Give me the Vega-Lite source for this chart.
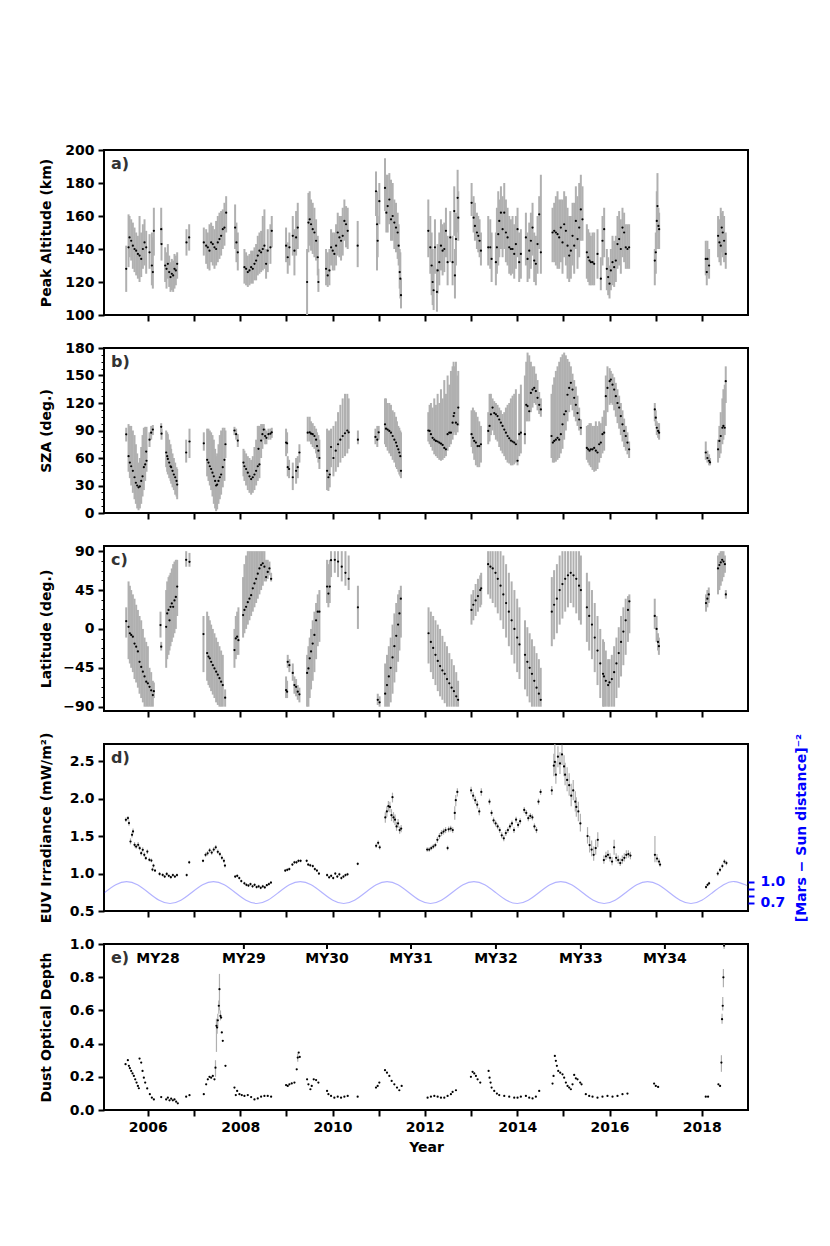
{
  "$schema": "https://vega.github.io/schema/vega-lite/v6.json",
  "background": "white",
  "padding": {"left": 38, "top": 142, "right": 5, "bottom": 5},
  "config": {
    "font": "DejaVu Sans",
    "view": {"stroke": "black", "strokeWidth": 2},
    "axis": {
      "labelFont": "DejaVu Sans", "labelFontSize": 14, "labelFontWeight": "bold", "labelColor": "black",
      "titleFont": "DejaVu Sans", "titleFontSize": 14, "titleFontWeight": "bold", "titleColor": "black",
      "tickColor": "black", "tickWidth": 2, "tickSize": 6, "domain": false, "grid": false, "labelPadding": 4
    }
  },
  "spacing": 33,
  "bounds": "flush",
  "datasets": {
    "a": [
      {"t":2005.531,"v":128,"lo":114,"hi":142},{"t":2005.582,"v":141,"lo":129,"hi":161},{"t":2005.603,"v":147,"lo":135,"hi":160},
      {"t":2005.639,"v":145,"lo":133,"hi":158},{"t":2005.675,"v":142,"lo":128,"hi":156},{"t":2005.711,"v":140,"lo":126,"hi":153},
      {"t":2005.747,"v":139,"lo":124,"hi":150},{"t":2005.784,"v":137,"lo":122,"hi":148},{"t":2005.820,"v":136,"lo":120,"hi":160},
      {"t":2005.856,"v":134,"lo":123,"hi":150},{"t":2005.892,"v":140,"lo":128,"hi":155},{"t":2005.928,"v":144,"lo":130,"hi":158},
      {"t":2005.964,"v":141,"lo":125,"hi":151},{"t":2006.036,"v":138,"lo":128,"hi":149},{"t":2006.087,"v":130,"lo":118,"hi":150},
      {"t":2006.108,"v":126,"lo":116,"hi":147},{"t":2006.130,"v":151,"lo":136,"hi":165},{"t":2006.289,"v":152,"lo":143,"hi":165},
      {"t":2006.296,"v":143,"lo":133,"hi":153},{"t":2006.375,"v":130,"lo":120,"hi":141},{"t":2006.404,"v":128,"lo":116,"hi":138},
      {"t":2006.433,"v":131,"lo":122,"hi":143},{"t":2006.462,"v":126,"lo":117,"hi":136},{"t":2006.491,"v":123,"lo":114,"hi":132},
      {"t":2006.519,"v":125,"lo":115,"hi":134},{"t":2006.548,"v":124,"lo":114,"hi":133},{"t":2006.577,"v":128,"lo":116,"hi":137},
      {"t":2006.606,"v":127,"lo":118,"hi":136},{"t":2006.635,"v":131,"lo":122,"hi":138},{"t":2006.837,"v":144,"lo":136,"hi":152},
      {"t":2006.895,"v":147,"lo":139,"hi":155},{"t":2007.212,"v":144,"lo":136,"hi":153},{"t":2007.263,"v":142,"lo":131,"hi":152},
      {"t":2007.299,"v":141,"lo":128,"hi":150},{"t":2007.335,"v":139,"lo":127,"hi":155},{"t":2007.371,"v":144,"lo":132,"hi":156},
      {"t":2007.407,"v":143,"lo":130,"hi":154},{"t":2007.443,"v":141,"lo":128,"hi":152},{"t":2007.479,"v":140,"lo":130,"hi":157},
      {"t":2007.515,"v":144,"lo":132,"hi":160},{"t":2007.551,"v":146,"lo":134,"hi":162},{"t":2007.587,"v":148,"lo":136,"hi":163},
      {"t":2007.623,"v":152,"lo":140,"hi":164},{"t":2007.659,"v":153,"lo":142,"hi":168},{"t":2007.696,"v":162,"lo":150,"hi":172},
      {"t":2007.890,"v":153,"lo":140,"hi":167},{"t":2007.919,"v":144,"lo":132,"hi":156},{"t":2007.948,"v":138,"lo":127,"hi":150},
      {"t":2008.092,"v":129,"lo":119,"hi":140},{"t":2008.128,"v":128,"lo":118,"hi":138},{"t":2008.165,"v":126,"lo":117,"hi":136},
      {"t":2008.201,"v":127,"lo":118,"hi":137},{"t":2008.237,"v":129,"lo":119,"hi":139},{"t":2008.273,"v":128,"lo":119,"hi":139},
      {"t":2008.309,"v":131,"lo":121,"hi":141},{"t":2008.345,"v":133,"lo":121,"hi":143},{"t":2008.381,"v":136,"lo":124,"hi":148},
      {"t":2008.417,"v":139,"lo":125,"hi":150},{"t":2008.453,"v":138,"lo":126,"hi":151},{"t":2008.489,"v":140,"lo":127,"hi":160},
      {"t":2008.525,"v":142,"lo":128,"hi":164},{"t":2008.561,"v":131,"lo":122,"hi":140},{"t":2008.597,"v":139,"lo":126,"hi":152},
      {"t":2008.655,"v":141,"lo":131,"hi":155},{"t":2008.684,"v":151,"lo":141,"hi":160},{"t":2008.994,"v":142,"lo":132,"hi":153},
      {"t":2009.030,"v":135,"lo":125,"hi":144},{"t":2009.066,"v":141,"lo":130,"hi":150},{"t":2009.139,"v":148,"lo":136,"hi":160},
      {"t":2009.175,"v":139,"lo":124,"hi":152},{"t":2009.211,"v":147,"lo":136,"hi":163},{"t":2009.247,"v":153,"lo":140,"hi":168},
      {"t":2009.449,"v":120,"lo":100,"hi":140},{"t":2009.478,"v":156,"lo":138,"hi":174},{"t":2009.506,"v":158,"lo":142,"hi":175},
      {"t":2009.535,"v":155,"lo":139,"hi":170},{"t":2009.571,"v":152,"lo":137,"hi":168},{"t":2009.608,"v":150,"lo":135,"hi":165},
      {"t":2009.644,"v":145,"lo":133,"hi":158},{"t":2009.680,"v":135,"lo":124,"hi":148},{"t":2009.694,"v":120,"lo":114,"hi":128},
      {"t":2009.860,"v":128,"lo":118,"hi":140},{"t":2009.896,"v":124,"lo":117,"hi":138},{"t":2009.933,"v":127,"lo":118,"hi":140},
      {"t":2009.969,"v":141,"lo":130,"hi":152},{"t":2010.005,"v":139,"lo":127,"hi":150},{"t":2010.040,"v":137,"lo":127,"hi":150},
      {"t":2010.077,"v":142,"lo":130,"hi":155},{"t":2010.113,"v":150,"lo":136,"hi":162},{"t":2010.149,"v":147,"lo":135,"hi":160},
      {"t":2010.185,"v":145,"lo":133,"hi":160},{"t":2010.221,"v":148,"lo":136,"hi":165},{"t":2010.257,"v":157,"lo":145,"hi":170},
      {"t":2010.293,"v":155,"lo":141,"hi":166},{"t":2010.329,"v":151,"lo":140,"hi":165},{"t":2010.545,"v":142,"lo":129,"hi":157},
      {"t":2010.942,"v":175,"lo":160,"hi":187},{"t":2010.964,"v":155,"lo":127,"hi":175},{"t":2010.978,"v":145,"lo":135,"hi":160},
      {"t":2011.014,"v":169,"lo":155,"hi":180},{"t":2011.137,"v":177,"lo":163,"hi":195},{"t":2011.166,"v":162,"lo":150,"hi":185},
      {"t":2011.195,"v":166,"lo":150,"hi":185},{"t":2011.231,"v":170,"lo":155,"hi":186},{"t":2011.267,"v":158,"lo":145,"hi":182},
      {"t":2011.303,"v":160,"lo":145,"hi":180},{"t":2011.339,"v":156,"lo":140,"hi":170},{"t":2011.375,"v":153,"lo":138,"hi":168},
      {"t":2011.411,"v":150,"lo":134,"hi":162},{"t":2011.433,"v":142,"lo":130,"hi":155},{"t":2011.455,"v":126,"lo":116,"hi":140},
      {"t":2011.469,"v":122,"lo":110,"hi":138},{"t":2011.483,"v":112,"lo":104,"hi":122},
      {"t":2012.075,"v":151,"lo":135,"hi":170},{"t":2012.118,"v":141,"lo":125,"hi":160},{"t":2012.147,"v":130,"lo":112,"hi":150},
      {"t":2012.169,"v":120,"lo":106,"hi":140},{"t":2012.190,"v":115,"lo":103,"hi":130},{"t":2012.219,"v":141,"lo":125,"hi":158},
      {"t":2012.262,"v":114,"lo":102,"hi":128},{"t":2012.277,"v":127,"lo":113,"hi":143},{"t":2012.313,"v":132,"lo":118,"hi":150},
      {"t":2012.349,"v":142,"lo":127,"hi":158},{"t":2012.385,"v":139,"lo":124,"hi":155},{"t":2012.421,"v":140,"lo":126,"hi":156},
      {"t":2012.457,"v":151,"lo":135,"hi":165},{"t":2012.493,"v":132,"lo":118,"hi":148},{"t":2012.551,"v":147,"lo":132,"hi":163},
      {"t":2012.601,"v":132,"lo":118,"hi":148},{"t":2012.637,"v":163,"lo":148,"hi":178},{"t":2012.652,"v":124,"lo":110,"hi":140},
      {"t":2012.674,"v":146,"lo":130,"hi":162},{"t":2012.710,"v":171,"lo":150,"hi":188},{"t":2012.724,"v":159,"lo":145,"hi":175},
      {"t":2013.013,"v":168,"lo":160,"hi":180},{"t":2013.056,"v":159,"lo":150,"hi":172},{"t":2013.085,"v":154,"lo":145,"hi":168},
      {"t":2013.128,"v":150,"lo":140,"hi":162},{"t":2013.157,"v":148,"lo":138,"hi":160},{"t":2013.186,"v":145,"lo":135,"hi":158},
      {"t":2013.215,"v":139,"lo":130,"hi":150},{"t":2013.373,"v":141,"lo":130,"hi":160},{"t":2013.417,"v":141,"lo":128,"hi":158},
      {"t":2013.446,"v":134,"lo":120,"hi":150},{"t":2013.539,"v":132,"lo":118,"hi":150},{"t":2013.561,"v":141,"lo":125,"hi":165},
      {"t":2013.590,"v":149,"lo":130,"hi":175},{"t":2013.612,"v":157,"lo":135,"hi":170},{"t":2013.648,"v":162,"lo":140,"hi":178},
      {"t":2013.684,"v":152,"lo":135,"hi":172},{"t":2013.720,"v":162,"lo":140,"hi":180},{"t":2013.756,"v":150,"lo":132,"hi":170},
      {"t":2013.792,"v":147,"lo":130,"hi":165},{"t":2013.828,"v":141,"lo":125,"hi":160},{"t":2013.864,"v":140,"lo":124,"hi":158},
      {"t":2013.900,"v":140,"lo":125,"hi":160},{"t":2013.936,"v":137,"lo":122,"hi":155},{"t":2013.972,"v":143,"lo":128,"hi":160},
      {"t":2014.008,"v":152,"lo":135,"hi":165},{"t":2014.044,"v":132,"lo":120,"hi":150},{"t":2014.080,"v":137,"lo":122,"hi":152},
      {"t":2014.189,"v":147,"lo":130,"hi":162},{"t":2014.225,"v":134,"lo":120,"hi":150},{"t":2014.261,"v":139,"lo":122,"hi":156},
      {"t":2014.297,"v":145,"lo":128,"hi":162},{"t":2014.333,"v":153,"lo":136,"hi":168},{"t":2014.369,"v":133,"lo":120,"hi":150},
      {"t":2014.405,"v":131,"lo":118,"hi":148},{"t":2014.441,"v":143,"lo":125,"hi":160},{"t":2014.477,"v":161,"lo":140,"hi":172},
      {"t":2014.513,"v":138,"lo":125,"hi":185},{"t":2014.766,"v":150,"lo":132,"hi":165},{"t":2014.802,"v":151,"lo":132,"hi":168},
      {"t":2014.838,"v":150,"lo":130,"hi":172},{"t":2014.874,"v":149,"lo":128,"hi":175},{"t":2014.910,"v":147,"lo":128,"hi":170},
      {"t":2014.946,"v":153,"lo":132,"hi":170},{"t":2014.982,"v":144,"lo":125,"hi":170},{"t":2015.018,"v":155,"lo":135,"hi":175},
      {"t":2015.055,"v":151,"lo":130,"hi":172},{"t":2015.091,"v":142,"lo":122,"hi":165},{"t":2015.127,"v":136,"lo":120,"hi":160},
      {"t":2015.163,"v":139,"lo":122,"hi":160},{"t":2015.199,"v":148,"lo":130,"hi":168},{"t":2015.235,"v":142,"lo":125,"hi":168},
      {"t":2015.271,"v":157,"lo":140,"hi":178},{"t":2015.307,"v":146,"lo":128,"hi":172},{"t":2015.343,"v":153,"lo":135,"hi":180},
      {"t":2015.379,"v":164,"lo":145,"hi":185},{"t":2015.415,"v":158,"lo":145,"hi":178},{"t":2015.509,"v":138,"lo":122,"hi":155},
      {"t":2015.538,"v":135,"lo":120,"hi":152},{"t":2015.567,"v":133,"lo":118,"hi":150},{"t":2015.596,"v":132,"lo":118,"hi":148},
      {"t":2015.632,"v":132,"lo":118,"hi":150},{"t":2015.668,"v":131,"lo":118,"hi":150},{"t":2015.740,"v":137,"lo":122,"hi":152},
      {"t":2015.812,"v":122,"lo":115,"hi":135},{"t":2015.848,"v":145,"lo":130,"hi":160},{"t":2015.884,"v":152,"lo":135,"hi":165},
      {"t":2015.942,"v":128,"lo":115,"hi":140},{"t":2015.971,"v":123,"lo":112,"hi":135},{"t":2016.000,"v":119,"lo":110,"hi":130},
      {"t":2016.029,"v":127,"lo":115,"hi":140},{"t":2016.065,"v":132,"lo":118,"hi":148},{"t":2016.101,"v":129,"lo":117,"hi":145},
      {"t":2016.137,"v":133,"lo":120,"hi":148},{"t":2016.173,"v":143,"lo":128,"hi":160},{"t":2016.209,"v":146,"lo":130,"hi":163},
      {"t":2016.245,"v":140,"lo":125,"hi":158},{"t":2016.281,"v":153,"lo":135,"hi":165},{"t":2016.317,"v":150,"lo":132,"hi":162},
      {"t":2016.353,"v":141,"lo":128,"hi":155},{"t":2016.389,"v":140,"lo":128,"hi":155},{"t":2016.425,"v":141,"lo":128,"hi":155},
      {"t":2016.981,"v":133,"lo":118,"hi":140},{"t":2017.003,"v":138,"lo":125,"hi":150},{"t":2017.024,"v":157,"lo":140,"hi":175},
      {"t":2017.039,"v":166,"lo":150,"hi":186},{"t":2017.060,"v":154,"lo":140,"hi":165},{"t":2017.075,"v":152,"lo":140,"hi":162},
      {"t":2018.085,"v":134,"lo":124,"hi":145},{"t":2018.107,"v":126,"lo":118,"hi":135},{"t":2018.121,"v":134,"lo":124,"hi":145},
      {"t":2018.157,"v":130,"lo":122,"hi":140},{"t":2018.352,"v":148,"lo":135,"hi":160},{"t":2018.381,"v":144,"lo":132,"hi":158},
      {"t":2018.410,"v":142,"lo":130,"hi":165},{"t":2018.431,"v":153,"lo":138,"hi":162},{"t":2018.453,"v":150,"lo":135,"hi":163},
      {"t":2018.482,"v":145,"lo":132,"hi":160},{"t":2018.518,"v":137,"lo":128,"hi":150}
    ],
    "b": [
      {"t":2005.531,"v":85.8,"lo":78,"hi":93},{"t":2005.582,"v":62,"lo":45,"hi":97},{"t":2005.610,"v":55,"lo":38,"hi":95},
      {"t":2005.639,"v":51,"lo":30,"hi":95},{"t":2005.675,"v":46,"lo":22,"hi":90},{"t":2005.711,"v":39,"lo":15,"hi":85},
      {"t":2005.740,"v":33,"lo":10,"hi":75},{"t":2005.769,"v":30,"lo":5,"hi":65},{"t":2005.798,"v":28,"lo":3,"hi":55},
      {"t":2005.827,"v":29,"lo":5,"hi":60},{"t":2005.856,"v":35,"lo":10,"hi":72},{"t":2005.885,"v":40,"lo":18,"hi":85},
      {"t":2005.913,"v":50,"lo":25,"hi":93},{"t":2005.942,"v":53,"lo":35,"hi":94},{"t":2005.971,"v":57,"lo":45,"hi":94},
      {"t":2005.964,"v":67,"lo":60,"hi":75},{"t":2006.036,"v":80,"lo":72,"hi":88},{"t":2006.072,"v":87.6,"lo":80,"hi":95},
      {"t":2006.108,"v":91,"lo":85,"hi":96},{"t":2006.289,"v":94,"lo":88,"hi":98},{"t":2006.296,"v":86.5,"lo":80,"hi":92},
      {"t":2006.397,"v":66,"lo":50,"hi":90},{"t":2006.419,"v":62,"lo":45,"hi":88},{"t":2006.433,"v":59,"lo":42,"hi":86},
      {"t":2006.462,"v":55,"lo":38,"hi":80},{"t":2006.491,"v":51,"lo":35,"hi":75},{"t":2006.505,"v":50,"lo":32,"hi":70},
      {"t":2006.534,"v":46,"lo":28,"hi":65},{"t":2006.563,"v":42,"lo":25,"hi":60},{"t":2006.592,"v":39,"lo":20,"hi":55},
      {"t":2006.621,"v":35,"lo":18,"hi":50},{"t":2006.635,"v":31,"lo":15,"hi":48},{"t":2006.830,"v":66,"lo":55,"hi":80},
      {"t":2006.902,"v":78,"lo":60,"hi":92},{"t":2007.212,"v":76,"lo":68,"hi":88},{"t":2007.284,"v":58,"lo":40,"hi":92},
      {"t":2007.313,"v":55,"lo":35,"hi":92},{"t":2007.342,"v":51,"lo":30,"hi":90},{"t":2007.371,"v":48,"lo":25,"hi":88},
      {"t":2007.400,"v":44,"lo":18,"hi":85},{"t":2007.429,"v":40,"lo":10,"hi":80},{"t":2007.457,"v":35,"lo":5,"hi":70},
      {"t":2007.479,"v":30,"lo":2,"hi":62},{"t":2007.501,"v":31,"lo":4,"hi":65},{"t":2007.530,"v":35,"lo":10,"hi":75},
      {"t":2007.558,"v":39,"lo":15,"hi":85},{"t":2007.587,"v":42,"lo":20,"hi":90},{"t":2007.623,"v":50,"lo":28,"hi":93},
      {"t":2007.659,"v":58,"lo":35,"hi":93},{"t":2007.681,"v":75,"lo":60,"hi":90},{"t":2007.876,"v":90,"lo":85,"hi":94},
      {"t":2007.912,"v":86,"lo":80,"hi":92},{"t":2007.948,"v":79,"lo":72,"hi":86},{"t":2008.071,"v":55,"lo":40,"hi":70},
      {"t":2008.092,"v":51,"lo":35,"hi":68},{"t":2008.128,"v":48,"lo":30,"hi":65},{"t":2008.165,"v":44,"lo":25,"hi":62},
      {"t":2008.201,"v":40,"lo":22,"hi":60},{"t":2008.237,"v":37,"lo":20,"hi":58},{"t":2008.273,"v":39,"lo":22,"hi":62},
      {"t":2008.309,"v":42,"lo":25,"hi":72},{"t":2008.345,"v":46,"lo":30,"hi":80},{"t":2008.381,"v":51,"lo":35,"hi":95},
      {"t":2008.396,"v":70,"lo":55,"hi":95},{"t":2008.417,"v":53,"lo":38,"hi":95},{"t":2008.453,"v":79,"lo":60,"hi":97},
      {"t":2008.482,"v":86,"lo":70,"hi":97},{"t":2008.511,"v":91,"lo":80,"hi":97},{"t":2008.540,"v":84,"lo":75,"hi":92},
      {"t":2008.568,"v":82,"lo":75,"hi":90},{"t":2008.612,"v":86,"lo":80,"hi":92},{"t":2008.655,"v":86.5,"lo":80,"hi":92},
      {"t":2008.684,"v":88,"lo":82,"hi":93},{"t":2008.994,"v":76.8,"lo":62,"hi":92},{"t":2009.016,"v":76,"lo":65,"hi":88},
      {"t":2009.030,"v":50,"lo":40,"hi":62},{"t":2009.059,"v":48,"lo":38,"hi":58},{"t":2009.139,"v":39,"lo":25,"hi":55},
      {"t":2009.211,"v":46,"lo":32,"hi":60},{"t":2009.247,"v":50,"lo":38,"hi":62},{"t":2009.283,"v":66,"lo":55,"hi":75},
      {"t":2009.463,"v":87.6,"lo":78,"hi":105},{"t":2009.506,"v":88,"lo":78,"hi":105},{"t":2009.535,"v":86.5,"lo":75,"hi":100},
      {"t":2009.571,"v":86,"lo":72,"hi":98},{"t":2009.608,"v":84,"lo":70,"hi":95},{"t":2009.644,"v":80,"lo":65,"hi":92},
      {"t":2009.665,"v":73,"lo":60,"hi":88},{"t":2009.694,"v":68,"lo":55,"hi":85},{"t":2009.716,"v":60,"lo":48,"hi":80},
      {"t":2009.882,"v":46,"lo":25,"hi":92},{"t":2009.911,"v":39,"lo":24,"hi":90},{"t":2009.940,"v":42,"lo":28,"hi":90},
      {"t":2009.968,"v":72,"lo":50,"hi":92},{"t":2010.020,"v":60,"lo":40,"hi":95},{"t":2010.070,"v":68,"lo":45,"hi":100},
      {"t":2010.120,"v":75,"lo":50,"hi":110},{"t":2010.170,"v":80,"lo":55,"hi":118},{"t":2010.220,"v":84,"lo":60,"hi":125},
      {"t":2010.270,"v":87,"lo":62,"hi":130},{"t":2010.320,"v":90,"lo":65,"hi":130},{"t":2010.350,"v":88,"lo":70,"hi":125},
      {"t":2010.550,"v":80,"lo":75,"hi":90},{"t":2010.930,"v":83,"lo":75,"hi":92},{"t":2010.970,"v":80,"lo":72,"hi":95},
      {"t":2011.000,"v":88,"lo":80,"hi":95},
      {"t":2011.137,"v":96.7,"lo":75,"hi":125},{"t":2011.158,"v":92,"lo":72,"hi":125},{"t":2011.194,"v":91,"lo":68,"hi":120},
      {"t":2011.230,"v":89.5,"lo":65,"hi":120},{"t":2011.266,"v":87.6,"lo":62,"hi":118},{"t":2011.303,"v":84,"lo":58,"hi":112},
      {"t":2011.339,"v":80,"lo":55,"hi":110},{"t":2011.375,"v":76.8,"lo":50,"hi":105},{"t":2011.396,"v":73,"lo":48,"hi":100},
      {"t":2011.425,"v":69.5,"lo":45,"hi":95},{"t":2011.447,"v":66,"lo":42,"hi":93},{"t":2011.468,"v":62,"lo":40,"hi":90},
      {"t":2011.483,"v":46,"lo":38,"hi":88},
      {"t":2012.075,"v":90,"lo":78,"hi":110},{"t":2012.103,"v":89.5,"lo":75,"hi":118},{"t":2012.132,"v":86,"lo":72,"hi":120},
      {"t":2012.168,"v":82,"lo":68,"hi":115},{"t":2012.204,"v":80,"lo":64,"hi":125},{"t":2012.240,"v":78.6,"lo":62,"hi":118},
      {"t":2012.277,"v":78,"lo":60,"hi":130},{"t":2012.313,"v":76.8,"lo":58,"hi":120},{"t":2012.349,"v":75.7,"lo":57,"hi":135},
      {"t":2012.385,"v":74.2,"lo":58,"hi":125},{"t":2012.421,"v":71,"lo":60,"hi":145},{"t":2012.457,"v":69.5,"lo":62,"hi":130},
      {"t":2012.493,"v":86,"lo":68,"hi":150},{"t":2012.529,"v":87.6,"lo":72,"hi":140},{"t":2012.565,"v":87.6,"lo":75,"hi":155},
      {"t":2012.601,"v":98.5,"lo":80,"hi":160},{"t":2012.623,"v":105.7,"lo":85,"hi":165},{"t":2012.637,"v":109,"lo":88,"hi":160},
      {"t":2012.673,"v":98.5,"lo":85,"hi":165},{"t":2012.709,"v":96.7,"lo":88,"hi":150},{"t":2012.724,"v":115,"lo":95,"hi":155},
      {"t":2013.012,"v":86,"lo":72,"hi":112},{"t":2013.041,"v":82,"lo":65,"hi":115},{"t":2013.070,"v":78.6,"lo":58,"hi":112},
      {"t":2013.106,"v":76.8,"lo":52,"hi":110},{"t":2013.142,"v":73,"lo":50,"hi":105},{"t":2013.178,"v":73,"lo":50,"hi":100},
      {"t":2013.215,"v":75,"lo":55,"hi":95},
      {"t":2013.373,"v":89.5,"lo":75,"hi":110},{"t":2013.402,"v":95,"lo":78,"hi":130},{"t":2013.431,"v":107.6,"lo":85,"hi":130},
      {"t":2013.467,"v":115,"lo":90,"hi":125},{"t":2013.503,"v":109,"lo":85,"hi":122},{"t":2013.539,"v":107.6,"lo":80,"hi":120},
      {"t":2013.575,"v":105.7,"lo":78,"hi":118},{"t":2013.611,"v":102,"lo":72,"hi":115},{"t":2013.647,"v":98.5,"lo":68,"hi":112},
      {"t":2013.683,"v":95,"lo":65,"hi":108},{"t":2013.720,"v":91,"lo":62,"hi":110},{"t":2013.756,"v":87.6,"lo":58,"hi":115},
      {"t":2013.792,"v":84,"lo":55,"hi":118},{"t":2013.828,"v":81.5,"lo":54,"hi":120},{"t":2013.864,"v":79,"lo":52,"hi":125},
      {"t":2013.900,"v":78,"lo":52,"hi":128},{"t":2013.936,"v":76.8,"lo":53,"hi":130},{"t":2013.972,"v":75,"lo":55,"hi":135},
      {"t":2014.008,"v":57,"lo":52,"hi":80},{"t":2014.044,"v":86,"lo":62,"hi":130},{"t":2014.080,"v":87.6,"lo":65,"hi":140},
      {"t":2014.167,"v":86,"lo":75,"hi":150},{"t":2014.196,"v":118,"lo":100,"hi":165},{"t":2014.225,"v":116.6,"lo":100,"hi":175},
      {"t":2014.261,"v":111,"lo":100,"hi":172},{"t":2014.297,"v":131,"lo":110,"hi":165},{"t":2014.333,"v":134.7,"lo":115,"hi":160},
      {"t":2014.369,"v":136.5,"lo":120,"hi":160},{"t":2014.405,"v":133,"lo":118,"hi":152},{"t":2014.441,"v":125.7,"lo":112,"hi":145},
      {"t":2014.477,"v":118,"lo":108,"hi":132},{"t":2014.513,"v":113,"lo":105,"hi":125},
      {"t":2014.744,"v":84,"lo":60,"hi":130},{"t":2014.773,"v":76.8,"lo":55,"hi":140},{"t":2014.802,"v":78.6,"lo":55,"hi":148},
      {"t":2014.838,"v":80,"lo":56,"hi":155},{"t":2014.874,"v":82,"lo":58,"hi":160},{"t":2014.910,"v":80,"lo":60,"hi":165},
      {"t":2014.946,"v":86,"lo":65,"hi":170},{"t":2014.982,"v":96.7,"lo":70,"hi":173},{"t":2015.018,"v":107.6,"lo":80,"hi":175},
      {"t":2015.054,"v":111,"lo":90,"hi":172},{"t":2015.090,"v":129,"lo":100,"hi":168},{"t":2015.126,"v":136.5,"lo":110,"hi":165},
      {"t":2015.163,"v":142,"lo":118,"hi":160},{"t":2015.199,"v":134.7,"lo":112,"hi":152},{"t":2015.235,"v":125.7,"lo":105,"hi":145},
      {"t":2015.271,"v":118,"lo":100,"hi":138},{"t":2015.307,"v":109,"lo":95,"hi":128},{"t":2015.343,"v":102,"lo":90,"hi":115},
      {"t":2015.379,"v":93,"lo":85,"hi":102},
      {"t":2015.509,"v":71,"lo":58,"hi":95},{"t":2015.538,"v":69.5,"lo":55,"hi":96},{"t":2015.567,"v":68,"lo":52,"hi":98},
      {"t":2015.596,"v":69.5,"lo":50,"hi":98},{"t":2015.632,"v":69.5,"lo":47,"hi":95},{"t":2015.668,"v":71,"lo":45,"hi":95},
      {"t":2015.704,"v":68,"lo":46,"hi":100},{"t":2015.740,"v":66,"lo":48,"hi":95},{"t":2015.776,"v":75,"lo":55,"hi":100},
      {"t":2015.812,"v":76.8,"lo":60,"hi":98},{"t":2015.848,"v":86,"lo":65,"hi":105},{"t":2015.884,"v":87.6,"lo":68,"hi":112},
      {"t":2015.920,"v":127.5,"lo":95,"hi":150},{"t":2015.956,"v":136.5,"lo":110,"hi":160},{"t":2016.003,"v":143.8,"lo":118,"hi":158},
      {"t":2016.029,"v":145.6,"lo":120,"hi":155},{"t":2016.065,"v":140,"lo":118,"hi":152},{"t":2016.101,"v":134.7,"lo":112,"hi":148},
      {"t":2016.137,"v":127.5,"lo":105,"hi":142},{"t":2016.173,"v":120,"lo":98,"hi":135},{"t":2016.209,"v":115,"lo":92,"hi":128},
      {"t":2016.245,"v":105.7,"lo":85,"hi":120},{"t":2016.281,"v":96.7,"lo":78,"hi":112},{"t":2016.317,"v":89.5,"lo":72,"hi":103},
      {"t":2016.353,"v":84,"lo":68,"hi":95},{"t":2016.389,"v":76.8,"lo":64,"hi":88},{"t":2016.425,"v":69.5,"lo":60,"hi":78},
      {"t":2016.981,"v":113,"lo":100,"hi":120},{"t":2017.002,"v":104,"lo":95,"hi":112},{"t":2017.024,"v":93,"lo":85,"hi":100},
      {"t":2017.053,"v":89.5,"lo":82,"hi":98},{"t":2017.074,"v":87.6,"lo":80,"hi":98},
      {"t":2018.085,"v":66,"lo":58,"hi":78},{"t":2018.121,"v":60,"lo":55,"hi":68},{"t":2018.157,"v":57,"lo":52,"hi":64},
      {"t":2018.178,"v":55.3,"lo":52,"hi":60},{"t":2018.351,"v":69.5,"lo":55,"hi":80},{"t":2018.380,"v":78.6,"lo":60,"hi":95},
      {"t":2018.409,"v":84,"lo":65,"hi":110},{"t":2018.445,"v":93,"lo":75,"hi":125},{"t":2018.467,"v":95,"lo":80,"hi":135},
      {"t":2018.496,"v":93,"lo":85,"hi":140},{"t":2018.518,"v":143.8,"lo":120,"hi":160}
    ],
    "c": [
      {"t":2005.531,"v":9,"lo":-10,"hi":25},{"t":2005.582,"v":2.5,"lo":-35,"hi":55},{"t":2005.610,"v":-5,"lo":-40,"hi":50},
      {"t":2005.639,"v":-7,"lo":-45,"hi":45},{"t":2005.675,"v":-9,"lo":-50,"hi":40},{"t":2005.711,"v":-17,"lo":-58,"hi":35},
      {"t":2005.747,"v":-20.6,"lo":-62,"hi":28},{"t":2005.784,"v":-26,"lo":-68,"hi":22},{"t":2005.820,"v":-38,"lo":-75,"hi":15},
      {"t":2005.856,"v":-44,"lo":-80,"hi":10},{"t":2005.892,"v":-49.5,"lo":-85,"hi":0},{"t":2005.928,"v":-55,"lo":-90,"hi":-10},
      {"t":2005.964,"v":-61,"lo":-90,"hi":-15},{"t":2006.000,"v":-63,"lo":-90,"hi":-20},{"t":2006.036,"v":-67,"lo":-90,"hi":-45},
      {"t":2006.072,"v":-71,"lo":-90,"hi":-50},{"t":2006.108,"v":-76.5,"lo":-90,"hi":-60},{"t":2006.130,"v":-72,"lo":-80,"hi":-62},
      {"t":2006.274,"v":4.5,"lo":-10,"hi":20},{"t":2006.289,"v":-20.6,"lo":-25,"hi":-15},{"t":2006.397,"v":2.5,"lo":-45,"hi":45},
      {"t":2006.419,"v":18,"lo":-35,"hi":55},{"t":2006.448,"v":22,"lo":-30,"hi":60},{"t":2006.469,"v":10,"lo":-25,"hi":62},
      {"t":2006.491,"v":25.6,"lo":-20,"hi":65},{"t":2006.519,"v":29.5,"lo":-15,"hi":70},{"t":2006.548,"v":25.6,"lo":-10,"hi":75},
      {"t":2006.577,"v":33,"lo":-5,"hi":78},{"t":2006.606,"v":37,"lo":0,"hi":80},{"t":2006.635,"v":49,"lo":15,"hi":80},
      {"t":2006.830,"v":80,"lo":72,"hi":90},{"t":2006.902,"v":77.7,"lo":72,"hi":88},{"t":2007.205,"v":-6,"lo":-50,"hi":15},
      {"t":2007.284,"v":-28,"lo":-60,"hi":20},{"t":2007.313,"v":-32,"lo":-65,"hi":15},{"t":2007.342,"v":-34,"lo":-68,"hi":10},
      {"t":2007.371,"v":-38,"lo":-72,"hi":5},{"t":2007.407,"v":-42,"lo":-76,"hi":0},{"t":2007.443,"v":-45.7,"lo":-80,"hi":-5},
      {"t":2007.479,"v":-49.5,"lo":-85,"hi":-10},{"t":2007.515,"v":-53,"lo":-88,"hi":-15},{"t":2007.551,"v":-57,"lo":-90,"hi":-20},
      {"t":2007.587,"v":-61,"lo":-90,"hi":-25},{"t":2007.623,"v":-65,"lo":-90,"hi":-30},{"t":2007.674,"v":-79.6,"lo":-90,"hi":-70},
      {"t":2007.876,"v":-24.5,"lo":-45,"hi":0},{"t":2007.905,"v":-11,"lo":-35,"hi":15},{"t":2007.934,"v":-9,"lo":-30,"hi":20},
      {"t":2007.962,"v":-13,"lo":-30,"hi":25},{"t":2008.063,"v":16,"lo":-10,"hi":60},{"t":2008.092,"v":22,"lo":-5,"hi":75},
      {"t":2008.128,"v":25.6,"lo":0,"hi":85},{"t":2008.165,"v":31,"lo":5,"hi":90},{"t":2008.201,"v":35,"lo":10,"hi":90},
      {"t":2008.237,"v":39,"lo":15,"hi":90},{"t":2008.273,"v":47,"lo":20,"hi":90},{"t":2008.309,"v":52.6,"lo":25,"hi":90},
      {"t":2008.345,"v":58,"lo":30,"hi":90},{"t":2008.381,"v":64,"lo":35,"hi":90},{"t":2008.417,"v":70,"lo":40,"hi":90},
      {"t":2008.453,"v":74,"lo":45,"hi":90},{"t":2008.489,"v":76,"lo":50,"hi":90},{"t":2008.525,"v":72,"lo":55,"hi":90},
      {"t":2008.561,"v":60,"lo":55,"hi":80},{"t":2008.597,"v":66,"lo":58,"hi":80},{"t":2008.634,"v":70,"lo":62,"hi":78},
      {"t":2008.670,"v":58,"lo":55,"hi":65},{"t":2008.994,"v":-70.7,"lo":-80,"hi":-55},{"t":2009.016,"v":-72.6,"lo":-80,"hi":-60},
      {"t":2009.030,"v":-38,"lo":-45,"hi":-30},{"t":2009.066,"v":-42,"lo":-50,"hi":-35},{"t":2009.139,"v":-51,"lo":-60,"hi":-40},
      {"t":2009.175,"v":-65,"lo":-75,"hi":-55},{"t":2009.211,"v":-67,"lo":-78,"hi":-58},{"t":2009.247,"v":-72.6,"lo":-82,"hi":-65},
      {"t":2009.283,"v":-75.7,"lo":-85,"hi":-68},{"t":2009.449,"v":-51,"lo":-90,"hi":-30},{"t":2009.478,"v":-45.7,"lo":-90,"hi":-20},
      {"t":2009.506,"v":-34,"lo":-80,"hi":-10},{"t":2009.535,"v":-26,"lo":-70,"hi":0},{"t":2009.571,"v":-17,"lo":-60,"hi":10},
      {"t":2009.608,"v":-7,"lo":-50,"hi":20},{"t":2009.644,"v":10,"lo":-35,"hi":30},{"t":2009.680,"v":20,"lo":-20,"hi":40},
      {"t":2009.716,"v":20,"lo":-15,"hi":45},{"t":2009.882,"v":49,"lo":30,"hi":80},{"t":2009.911,"v":41,"lo":25,"hi":75},
      {"t":2009.940,"v":49,"lo":30,"hi":80},{"t":2009.968,"v":79.6,"lo":60,"hi":90},{"t":2010.050,"v":80,"lo":65,"hi":90},
      {"t":2010.120,"v":78,"lo":60,"hi":90},{"t":2010.200,"v":72,"lo":55,"hi":90},{"t":2010.280,"v":65,"lo":50,"hi":90},
      {"t":2010.350,"v":58,"lo":45,"hi":85},{"t":2010.550,"v":25,"lo":0,"hi":50},{"t":2010.980,"v":-82,"lo":-88,"hi":-75},
      {"t":2011.020,"v":-85,"lo":-90,"hi":-78},
      {"t":2011.140,"v":-75,"lo":-90,"hi":-40},{"t":2011.180,"v":-65,"lo":-90,"hi":-30},{"t":2011.220,"v":-55,"lo":-90,"hi":-20},
      {"t":2011.260,"v":-45,"lo":-85,"hi":-10},{"t":2011.300,"v":-33,"lo":-75,"hi":5},{"t":2011.340,"v":-20,"lo":-62,"hi":18},
      {"t":2011.380,"v":-8,"lo":-50,"hi":30},{"t":2011.420,"v":5,"lo":-38,"hi":40},{"t":2011.450,"v":18,"lo":-25,"hi":45},
      {"t":2011.480,"v":35,"lo":-10,"hi":50},
      {"t":2012.080,"v":-5,"lo":-40,"hi":25},{"t":2012.130,"v":-15,"lo":-50,"hi":20},{"t":2012.180,"v":-22,"lo":-58,"hi":15},
      {"t":2012.230,"v":-30,"lo":-65,"hi":10},{"t":2012.280,"v":-37,"lo":-72,"hi":5},{"t":2012.330,"v":-43,"lo":-78,"hi":0},
      {"t":2012.380,"v":-48,"lo":-82,"hi":-8},{"t":2012.430,"v":-52,"lo":-86,"hi":-15},{"t":2012.480,"v":-58,"lo":-90,"hi":-20},
      {"t":2012.530,"v":-63,"lo":-90,"hi":-28},{"t":2012.580,"v":-68,"lo":-90,"hi":-35},{"t":2012.630,"v":-72,"lo":-90,"hi":-42},
      {"t":2012.680,"v":-78,"lo":-90,"hi":-50},{"t":2012.720,"v":-82,"lo":-90,"hi":-60},
      {"t":2013.010,"v":22,"lo":5,"hi":40},{"t":2013.050,"v":28,"lo":10,"hi":45},{"t":2013.100,"v":33,"lo":15,"hi":52},
      {"t":2013.150,"v":38,"lo":20,"hi":58},{"t":2013.200,"v":45,"lo":25,"hi":62},{"t":2013.220,"v":47,"lo":28,"hi":65},
      {"t":2013.370,"v":75,"lo":40,"hi":90},{"t":2013.420,"v":72,"lo":35,"hi":90},{"t":2013.470,"v":70,"lo":30,"hi":90},
      {"t":2013.530,"v":65,"lo":25,"hi":90},{"t":2013.580,"v":58,"lo":18,"hi":90},{"t":2013.640,"v":50,"lo":10,"hi":90},
      {"t":2013.700,"v":40,"lo":0,"hi":85},{"t":2013.760,"v":30,"lo":-10,"hi":75},{"t":2013.820,"v":20,"lo":-20,"hi":65},
      {"t":2013.880,"v":10,"lo":-30,"hi":55},{"t":2013.940,"v":0,"lo":-40,"hi":45},{"t":2014.000,"v":-10,"lo":-50,"hi":35},
      {"t":2014.050,"v":-18,"lo":-58,"hi":25},{"t":2014.170,"v":-30,"lo":-70,"hi":10},{"t":2014.220,"v":-38,"lo":-78,"hi":2},
      {"t":2014.270,"v":-45,"lo":-85,"hi":-5},{"t":2014.320,"v":-52,"lo":-90,"hi":-12},{"t":2014.370,"v":-60,"lo":-90,"hi":-20},
      {"t":2014.420,"v":-68,"lo":-90,"hi":-28},{"t":2014.470,"v":-75,"lo":-90,"hi":-35},{"t":2014.510,"v":-82,"lo":-90,"hi":-45},
      {"t":2014.750,"v":20,"lo":-20,"hi":60},{"t":2014.800,"v":28,"lo":-12,"hi":68},{"t":2014.860,"v":35,"lo":-5,"hi":75},
      {"t":2014.920,"v":45,"lo":5,"hi":85},{"t":2014.980,"v":52,"lo":12,"hi":90},{"t":2015.040,"v":58,"lo":20,"hi":90},
      {"t":2015.100,"v":62,"lo":25,"hi":90},{"t":2015.160,"v":65,"lo":30,"hi":90},{"t":2015.220,"v":62,"lo":25,"hi":90},
      {"t":2015.280,"v":58,"lo":18,"hi":90},{"t":2015.340,"v":50,"lo":10,"hi":90},{"t":2015.380,"v":45,"lo":5,"hi":85},
      {"t":2015.510,"v":25,"lo":-15,"hi":65},{"t":2015.560,"v":15,"lo":-25,"hi":55},{"t":2015.620,"v":5,"lo":-35,"hi":45},
      {"t":2015.680,"v":-10,"lo":-50,"hi":30},{"t":2015.740,"v":-25,"lo":-65,"hi":15},{"t":2015.800,"v":-40,"lo":-80,"hi":0},
      {"t":2015.860,"v":-52,"lo":-90,"hi":-12},{"t":2015.880,"v":-55,"lo":-90,"hi":-15},{"t":2015.920,"v":-60,"lo":-90,"hi":-25},
      {"t":2015.970,"v":-65,"lo":-90,"hi":-35},{"t":2016.000,"v":-62,"lo":-90,"hi":-35},{"t":2016.050,"v":-58,"lo":-90,"hi":-30},
      {"t":2016.100,"v":-50,"lo":-90,"hi":-20},{"t":2016.150,"v":-40,"lo":-80,"hi":-10},{"t":2016.200,"v":-28,"lo":-68,"hi":2},
      {"t":2016.250,"v":-15,"lo":-55,"hi":15},{"t":2016.300,"v":-3,"lo":-42,"hi":25},{"t":2016.350,"v":10,"lo":-30,"hi":35},
      {"t":2016.400,"v":22,"lo":-15,"hi":38},{"t":2016.430,"v":32,"lo":-5,"hi":40},
      {"t":2016.980,"v":15,"lo":0,"hi":35},{"t":2017.020,"v":0,"lo":-15,"hi":15},{"t":2017.050,"v":-15,"lo":-25,"hi":-5},
      {"t":2017.070,"v":-20,"lo":-30,"hi":-10},
      {"t":2018.090,"v":30,"lo":20,"hi":40},{"t":2018.120,"v":35,"lo":25,"hi":45},{"t":2018.150,"v":40,"lo":30,"hi":48},
      {"t":2018.350,"v":70,"lo":40,"hi":85},{"t":2018.380,"v":74,"lo":45,"hi":88},{"t":2018.410,"v":77,"lo":50,"hi":90},
      {"t":2018.440,"v":80,"lo":55,"hi":90},{"t":2018.470,"v":78,"lo":60,"hi":90},{"t":2018.500,"v":75,"lo":65,"hi":85},
      {"t":2018.520,"v":40,"lo":35,"hi":45}
    ],
    "d": [
      {"t":2005.524,"v":1.718,"lo":1.69,"hi":1.75},{"t":2005.569,"v":1.741,"lo":1.71,"hi":1.77},{"t":2005.591,"v":1.674,"lo":1.64,"hi":1.71},
      {"t":2005.624,"v":1.428,"lo":1.39,"hi":1.47},{"t":2005.657,"v":1.517,"lo":1.48,"hi":1.55},{"t":2005.679,"v":1.562,"lo":1.53,"hi":1.6},
      {"t":2005.712,"v":1.384,"lo":1.35,"hi":1.42},{"t":2005.746,"v":1.361,"lo":1.33,"hi":1.39},{"t":2005.790,"v":1.384,"lo":1.35,"hi":1.42},
      {"t":2005.823,"v":1.339,"lo":1.31,"hi":1.37},{"t":2005.856,"v":1.272,"lo":1.24,"hi":1.3},{"t":2005.889,"v":1.317,"lo":1.29,"hi":1.35},
      {"t":2005.923,"v":1.25,"lo":1.22,"hi":1.28},{"t":2005.956,"v":1.205,"lo":1.18,"hi":1.23},{"t":2005.989,"v":1.294,"lo":1.26,"hi":1.32},
      {"t":2006.033,"v":1.183,"lo":1.16,"hi":1.21},{"t":2006.077,"v":1.174,"lo":1.15,"hi":1.2},{"t":2006.100,"v":1.053,"lo":1.03,"hi":1.08},
      {"t":2006.122,"v":1.107,"lo":1.08,"hi":1.13},{"t":2006.155,"v":1.04,"lo":1.02,"hi":1.06},{"t":2006.254,"v":0.995,"lo":0.97,"hi":1.02},
      {"t":2006.321,"v":0.982,"lo":0.96,"hi":1.0},{"t":2006.365,"v":0.96,"lo":0.94,"hi":0.98},{"t":2006.409,"v":0.995,"lo":0.97,"hi":1.02},
      {"t":2006.454,"v":0.97,"lo":0.95,"hi":0.99},{"t":2006.498,"v":0.951,"lo":0.93,"hi":0.97},{"t":2006.542,"v":0.98,"lo":0.96,"hi":1.0},
      {"t":2006.586,"v":0.96,"lo":0.94,"hi":0.98},{"t":2006.631,"v":0.98,"lo":0.96,"hi":1.0},{"t":2006.841,"v":0.98,"lo":0.96,"hi":1.0},
      {"t":2006.896,"v":1.15,"lo":1.13,"hi":1.17},{"t":2007.195,"v":1.17,"lo":1.15,"hi":1.19},{"t":2007.250,"v":1.25,"lo":1.22,"hi":1.28},
      {"t":2007.294,"v":1.27,"lo":1.24,"hi":1.3},{"t":2007.338,"v":1.31,"lo":1.28,"hi":1.34},{"t":2007.383,"v":1.28,"lo":1.25,"hi":1.31},
      {"t":2007.427,"v":1.32,"lo":1.29,"hi":1.35},{"t":2007.471,"v":1.35,"lo":1.32,"hi":1.38},{"t":2007.515,"v":1.29,"lo":1.26,"hi":1.32},
      {"t":2007.560,"v":1.26,"lo":1.23,"hi":1.29},{"t":2007.604,"v":1.21,"lo":1.18,"hi":1.24},{"t":2007.648,"v":1.17,"lo":1.14,"hi":1.2},
      {"t":2007.670,"v":1.107,"lo":1.08,"hi":1.13},{"t":2007.892,"v":0.96,"lo":0.94,"hi":0.98},{"t":2007.936,"v":0.97,"lo":0.95,"hi":0.99},
      {"t":2007.980,"v":0.94,"lo":0.92,"hi":0.96},{"t":2008.024,"v":0.90,"lo":0.88,"hi":0.92},{"t":2008.091,"v":0.87,"lo":0.85,"hi":0.89},
      {"t":2008.135,"v":0.85,"lo":0.83,"hi":0.87},{"t":2008.179,"v":0.84,"lo":0.82,"hi":0.86},{"t":2008.223,"v":0.86,"lo":0.84,"hi":0.88},
      {"t":2008.268,"v":0.83,"lo":0.81,"hi":0.85},{"t":2008.312,"v":0.85,"lo":0.83,"hi":0.87},{"t":2008.356,"v":0.82,"lo":0.8,"hi":0.84},
      {"t":2008.400,"v":0.83,"lo":0.81,"hi":0.85},{"t":2008.445,"v":0.81,"lo":0.79,"hi":0.83},{"t":2008.489,"v":0.83,"lo":0.81,"hi":0.85},
      {"t":2008.533,"v":0.815,"lo":0.8,"hi":0.83},{"t":2008.577,"v":0.845,"lo":0.83,"hi":0.86},{"t":2008.622,"v":0.86,"lo":0.84,"hi":0.88},
      {"t":2008.666,"v":0.88,"lo":0.86,"hi":0.9},{"t":2008.976,"v":1.04,"lo":1.02,"hi":1.06},{"t":2009.020,"v":1.05,"lo":1.03,"hi":1.07},
      {"t":2009.064,"v":1.06,"lo":1.04,"hi":1.08},{"t":2009.131,"v":1.12,"lo":1.1,"hi":1.14},{"t":2009.175,"v":1.15,"lo":1.13,"hi":1.17},
      {"t":2009.219,"v":1.15,"lo":1.13,"hi":1.17},{"t":2009.263,"v":1.17,"lo":1.15,"hi":1.19},{"t":2009.308,"v":1.17,"lo":1.15,"hi":1.19},
      {"t":2009.440,"v":1.17,"lo":1.15,"hi":1.19},{"t":2009.473,"v":1.12,"lo":1.1,"hi":1.14},{"t":2009.518,"v":1.11,"lo":1.09,"hi":1.13},
      {"t":2009.573,"v":1.10,"lo":1.08,"hi":1.12},{"t":2009.617,"v":1.06,"lo":1.04,"hi":1.08},{"t":2009.662,"v":1.04,"lo":1.02,"hi":1.06},
      {"t":2009.706,"v":1.0,"lo":0.98,"hi":1.02},{"t":2009.883,"v":0.98,"lo":0.96,"hi":1.0},{"t":2009.927,"v":0.95,"lo":0.93,"hi":0.97},
      {"t":2009.971,"v":0.97,"lo":0.95,"hi":0.99},{"t":2010.015,"v":0.94,"lo":0.92,"hi":0.96},{"t":2010.060,"v":1.0,"lo":0.98,"hi":1.02},
      {"t":2010.104,"v":0.96,"lo":0.94,"hi":0.98},{"t":2010.148,"v":0.99,"lo":0.97,"hi":1.01},{"t":2010.192,"v":0.94,"lo":0.92,"hi":0.96},
      {"t":2010.237,"v":0.96,"lo":0.94,"hi":0.98},{"t":2010.281,"v":0.98,"lo":0.96,"hi":1.0},{"t":2010.325,"v":0.99,"lo":0.97,"hi":1.01},
      {"t":2010.546,"v":1.13,"lo":1.11,"hi":1.15},{"t":2010.945,"v":1.37,"lo":1.34,"hi":1.4},{"t":2010.989,"v":1.41,"lo":1.38,"hi":1.44},
      {"t":2011.022,"v":1.35,"lo":1.32,"hi":1.38},{"t":2011.144,"v":1.75,"lo":1.68,"hi":1.82},{"t":2011.177,"v":1.83,"lo":1.76,"hi":1.9},
      {"t":2011.210,"v":1.90,"lo":1.83,"hi":1.97},{"t":2011.243,"v":1.89,"lo":1.82,"hi":1.96},{"t":2011.277,"v":1.78,"lo":1.7,"hi":1.86},
      {"t":2011.299,"v":2.02,"lo":1.95,"hi":2.08},{"t":2011.321,"v":1.75,"lo":1.68,"hi":1.82},{"t":2011.354,"v":1.72,"lo":1.65,"hi":1.79},
      {"t":2011.387,"v":1.63,"lo":1.57,"hi":1.69},{"t":2011.420,"v":1.67,"lo":1.61,"hi":1.73},{"t":2011.454,"v":1.58,"lo":1.53,"hi":1.63},
      {"t":2011.487,"v":1.6,"lo":1.55,"hi":1.65},{"t":2012.051,"v":1.32,"lo":1.29,"hi":1.35},{"t":2012.095,"v":1.32,"lo":1.29,"hi":1.35},
      {"t":2012.139,"v":1.34,"lo":1.31,"hi":1.37},{"t":2012.184,"v":1.36,"lo":1.33,"hi":1.39},{"t":2012.228,"v":1.38,"lo":1.35,"hi":1.41},
      {"t":2012.272,"v":1.45,"lo":1.41,"hi":1.49},{"t":2012.316,"v":1.50,"lo":1.46,"hi":1.54},{"t":2012.361,"v":1.54,"lo":1.5,"hi":1.58},
      {"t":2012.405,"v":1.56,"lo":1.52,"hi":1.6},{"t":2012.449,"v":1.58,"lo":1.54,"hi":1.62},{"t":2012.493,"v":1.34,"lo":1.31,"hi":1.37},
      {"t":2012.515,"v":1.59,"lo":1.55,"hi":1.63},{"t":2012.560,"v":1.6,"lo":1.56,"hi":1.64},{"t":2012.604,"v":1.58,"lo":1.54,"hi":1.62},
      {"t":2012.648,"v":1.81,"lo":1.72,"hi":1.9},{"t":2012.670,"v":1.98,"lo":1.9,"hi":2.05},{"t":2012.704,"v":2.09,"lo":2.03,"hi":2.14},
      {"t":2013.002,"v":2.11,"lo":2.06,"hi":2.16},{"t":2013.046,"v":2.04,"lo":1.99,"hi":2.09},{"t":2013.091,"v":1.98,"lo":1.93,"hi":2.03},
      {"t":2013.135,"v":1.92,"lo":1.87,"hi":1.97},{"t":2013.179,"v":1.83,"lo":1.78,"hi":1.88},{"t":2013.223,"v":2.09,"lo":2.04,"hi":2.14},
      {"t":2013.400,"v":1.96,"lo":1.92,"hi":2.0},{"t":2013.445,"v":1.81,"lo":1.77,"hi":1.85},{"t":2013.489,"v":1.71,"lo":1.67,"hi":1.75},
      {"t":2013.533,"v":1.67,"lo":1.63,"hi":1.71},{"t":2013.577,"v":1.63,"lo":1.59,"hi":1.67},{"t":2013.622,"v":1.58,"lo":1.54,"hi":1.62},
      {"t":2013.666,"v":1.51,"lo":1.47,"hi":1.55},{"t":2013.710,"v":1.47,"lo":1.43,"hi":1.51},{"t":2013.754,"v":1.54,"lo":1.5,"hi":1.58},
      {"t":2013.799,"v":1.58,"lo":1.54,"hi":1.62},{"t":2013.843,"v":1.63,"lo":1.59,"hi":1.67},{"t":2013.887,"v":1.67,"lo":1.63,"hi":1.71},
      {"t":2013.931,"v":1.58,"lo":1.54,"hi":1.62},{"t":2013.976,"v":1.72,"lo":1.68,"hi":1.76},{"t":2014.020,"v":1.65,"lo":1.61,"hi":1.69},
      {"t":2014.064,"v":1.70,"lo":1.66,"hi":1.74},{"t":2014.153,"v":1.85,"lo":1.81,"hi":1.89},{"t":2014.197,"v":1.81,"lo":1.77,"hi":1.85},
      {"t":2014.241,"v":1.74,"lo":1.7,"hi":1.78},{"t":2014.285,"v":1.77,"lo":1.73,"hi":1.81},{"t":2014.330,"v":1.75,"lo":1.71,"hi":1.79},
      {"t":2014.374,"v":1.63,"lo":1.59,"hi":1.67},{"t":2014.418,"v":1.58,"lo":1.54,"hi":1.62},{"t":2014.462,"v":1.96,"lo":1.92,"hi":2.0},
      {"t":2014.507,"v":2.09,"lo":2.05,"hi":2.13},{"t":2014.750,"v":2.11,"lo":2.05,"hi":2.17},{"t":2014.794,"v":2.44,"lo":2.3,"hi":2.6},
      {"t":2014.816,"v":2.49,"lo":2.35,"hi":2.73},{"t":2014.838,"v":2.32,"lo":2.2,"hi":2.5},{"t":2014.883,"v":2.56,"lo":2.42,"hi":2.7},
      {"t":2014.927,"v":2.47,"lo":2.33,"hi":2.62},{"t":2014.971,"v":2.59,"lo":2.45,"hi":2.72},{"t":2015.015,"v":2.43,"lo":2.3,"hi":2.58},
      {"t":2015.038,"v":2.32,"lo":2.18,"hi":2.48},{"t":2015.082,"v":2.25,"lo":2.1,"hi":2.42},{"t":2015.126,"v":2.18,"lo":2.04,"hi":2.34},
      {"t":2015.170,"v":2.04,"lo":1.9,"hi":2.2},{"t":2015.214,"v":2.11,"lo":1.98,"hi":2.25},{"t":2015.259,"v":1.96,"lo":1.83,"hi":2.1},
      {"t":2015.281,"v":1.89,"lo":1.76,"hi":2.02},{"t":2015.325,"v":1.83,"lo":1.7,"hi":1.96},{"t":2015.369,"v":1.67,"lo":1.56,"hi":1.8},
      {"t":2015.524,"v":1.5,"lo":1.4,"hi":1.62},{"t":2015.569,"v":1.38,"lo":1.28,"hi":1.5},{"t":2015.613,"v":1.32,"lo":1.23,"hi":1.44},
      {"t":2015.657,"v":1.25,"lo":1.17,"hi":1.36},{"t":2015.701,"v":1.34,"lo":1.25,"hi":1.45},{"t":2015.746,"v":1.45,"lo":1.35,"hi":1.55},
      {"t":2015.878,"v":1.18,"lo":1.13,"hi":1.24},{"t":2015.923,"v":1.23,"lo":1.18,"hi":1.29},{"t":2015.967,"v":1.25,"lo":1.2,"hi":1.31},
      {"t":2016.011,"v":1.21,"lo":1.16,"hi":1.27},{"t":2016.055,"v":1.16,"lo":1.11,"hi":1.22},{"t":2016.100,"v":1.35,"lo":1.25,"hi":1.45},
      {"t":2016.144,"v":1.21,"lo":1.16,"hi":1.27},{"t":2016.188,"v":1.18,"lo":1.13,"hi":1.24},{"t":2016.232,"v":1.14,"lo":1.1,"hi":1.2},
      {"t":2016.277,"v":1.18,"lo":1.13,"hi":1.24},{"t":2016.321,"v":1.21,"lo":1.16,"hi":1.27},{"t":2016.365,"v":1.25,"lo":1.2,"hi":1.31},
      {"t":2016.409,"v":1.26,"lo":1.21,"hi":1.31},{"t":2016.453,"v":1.24,"lo":1.19,"hi":1.29},{"t":2016.984,"v":1.25,"lo":1.15,"hi":1.5},
      {"t":2017.029,"v":1.20,"lo":1.15,"hi":1.26},{"t":2017.073,"v":1.16,"lo":1.12,"hi":1.2},{"t":2017.095,"v":1.12,"lo":1.09,"hi":1.15},
      {"t":2018.091,"v":0.82,"lo":0.8,"hi":0.84},{"t":2018.124,"v":0.85,"lo":0.83,"hi":0.87},{"t":2018.157,"v":0.87,"lo":0.85,"hi":0.89},
      {"t":2018.345,"v":1.0,"lo":0.97,"hi":1.03},{"t":2018.394,"v":1.05,"lo":1.02,"hi":1.08},{"t":2018.445,"v":1.10,"lo":1.07,"hi":1.13},
      {"t":2018.489,"v":1.16,"lo":1.13,"hi":1.19},{"t":2018.533,"v":1.14,"lo":1.11,"hi":1.17}
    ],
    "sun": [
      {"t":2005.05,"r":0.836},{"t":2005.305,"r":0.954},{"t":2005.540,"r":1.0},{"t":2005.775,"r":0.954},{"t":2006.010,"r":0.844},
      {"t":2006.245,"r":0.733},{"t":2006.480,"r":0.687},{"t":2006.716,"r":0.733},{"t":2006.951,"r":0.844},{"t":2007.186,"r":0.954},
      {"t":2007.421,"r":1.0},{"t":2007.656,"r":0.954},{"t":2007.891,"r":0.844},{"t":2008.126,"r":0.733},{"t":2008.361,"r":0.687},
      {"t":2008.596,"r":0.733},{"t":2008.831,"r":0.844},{"t":2009.067,"r":0.954},{"t":2009.302,"r":1.0},{"t":2009.537,"r":0.954},
      {"t":2009.772,"r":0.844},{"t":2010.007,"r":0.733},{"t":2010.242,"r":0.687},{"t":2010.477,"r":0.733},{"t":2010.712,"r":0.844},
      {"t":2010.947,"r":0.954},{"t":2011.182,"r":1.0},{"t":2011.418,"r":0.954},{"t":2011.653,"r":0.844},{"t":2011.888,"r":0.733},
      {"t":2012.123,"r":0.687},{"t":2012.358,"r":0.733},{"t":2012.593,"r":0.844},{"t":2012.828,"r":0.954},{"t":2013.063,"r":1.0},
      {"t":2013.298,"r":0.954},{"t":2013.533,"r":0.844},{"t":2013.769,"r":0.733},{"t":2014.004,"r":0.687},{"t":2014.239,"r":0.733},
      {"t":2014.474,"r":0.844},{"t":2014.709,"r":0.954},{"t":2014.944,"r":1.0},{"t":2015.179,"r":0.954},{"t":2015.414,"r":0.844},
      {"t":2015.649,"r":0.733},{"t":2015.884,"r":0.687},{"t":2016.120,"r":0.733},{"t":2016.355,"r":0.844},{"t":2016.590,"r":0.954},
      {"t":2016.825,"r":1.0},{"t":2017.060,"r":0.954},{"t":2017.295,"r":0.844},{"t":2017.530,"r":0.733},{"t":2017.765,"r":0.687},
      {"t":2018.000,"r":0.733},{"t":2018.235,"r":0.844},{"t":2018.471,"r":0.954},{"t":2018.706,"r":1.0},{"t":2018.941,"r":0.954},
      {"t":2019.0,"r":0.935}
    ],
    "e": [
      {"t":2005.517,"v":0.276},{"t":2005.567,"v":0.30},{"t":2005.589,"v":0.266},{"t":2005.610,"v":0.252},{"t":2005.639,"v":0.235},
      {"t":2005.668,"v":0.22},{"t":2005.697,"v":0.205},{"t":2005.726,"v":0.185},{"t":2005.755,"v":0.165},{"t":2005.784,"v":0.145},
      {"t":2005.805,"v":0.131},{"t":2005.820,"v":0.31},{"t":2005.856,"v":0.286},{"t":2005.885,"v":0.235},{"t":2005.913,"v":0.195},
      {"t":2005.942,"v":0.165},{"t":2005.986,"v":0.13},{"t":2006.043,"v":0.095},{"t":2006.087,"v":0.074},{"t":2006.130,"v":0.064},
      {"t":2006.289,"v":0.078},{"t":2006.397,"v":0.064},{"t":2006.433,"v":0.074},{"t":2006.469,"v":0.058},{"t":2006.505,"v":0.068},
      {"t":2006.541,"v":0.058},{"t":2006.577,"v":0.064},{"t":2006.613,"v":0.05},{"t":2006.649,"v":0.04},{"t":2006.830,"v":0.08},
      {"t":2006.902,"v":0.089},{"t":2007.212,"v":0.095},{"t":2007.263,"v":0.155},{"t":2007.299,"v":0.185},{"t":2007.335,"v":0.20},
      {"t":2007.371,"v":0.195},{"t":2007.407,"v":0.205},{"t":2007.443,"v":0.185},{"t":2007.465,"v":0.255,"lo":0.2,"hi":0.3},
      {"t":2007.486,"v":0.507,"lo":0.35,"hi":0.55},{"t":2007.501,"v":0.497,"lo":0.46,"hi":0.54},{"t":2007.515,"v":0.54,"lo":0.5,"hi":0.58},
      {"t":2007.537,"v":0.628,"lo":0.58,"hi":0.66},{"t":2007.551,"v":0.728,"lo":0.6,"hi":0.82},{"t":2007.573,"v":0.567,"lo":0.54,"hi":0.6},
      {"t":2007.587,"v":0.557},{"t":2007.602,"v":0.467},{"t":2007.623,"v":0.417},{"t":2007.681,"v":0.266},{"t":2007.876,"v":0.135},
      {"t":2007.905,"v":0.09},{"t":2007.934,"v":0.115},{"t":2007.984,"v":0.095},{"t":2008.035,"v":0.09},{"t":2008.092,"v":0.085},
      {"t":2008.165,"v":0.09},{"t":2008.237,"v":0.078},{"t":2008.309,"v":0.064},{"t":2008.381,"v":0.07},{"t":2008.453,"v":0.08},
      {"t":2008.525,"v":0.085},{"t":2008.597,"v":0.085},{"t":2008.670,"v":0.08},{"t":2008.994,"v":0.15},{"t":2009.030,"v":0.145},
      {"t":2009.066,"v":0.155},{"t":2009.117,"v":0.16},{"t":2009.175,"v":0.165},{"t":2009.225,"v":0.245},{"t":2009.247,"v":0.316,"lo":0.29,"hi":0.34},
      {"t":2009.268,"v":0.346},{"t":2009.290,"v":0.32},{"t":2009.449,"v":0.185},{"t":2009.478,"v":0.155},{"t":2009.521,"v":0.125},
      {"t":2009.550,"v":0.145},{"t":2009.593,"v":0.185},{"t":2009.644,"v":0.18},{"t":2009.694,"v":0.165},{"t":2009.882,"v":0.115},
      {"t":2009.911,"v":0.095},{"t":2009.968,"v":0.085},{"t":2010.040,"v":0.074},{"t":2010.113,"v":0.08},{"t":2010.185,"v":0.074},
      {"t":2010.257,"v":0.08},{"t":2010.329,"v":0.085},{"t":2010.545,"v":0.08},{"t":2010.942,"v":0.135},{"t":2010.978,"v":0.145},
      {"t":2011.014,"v":0.165},{"t":2011.137,"v":0.24},{"t":2011.180,"v":0.225},{"t":2011.231,"v":0.205},{"t":2011.281,"v":0.175},
      {"t":2011.339,"v":0.155},{"t":2011.397,"v":0.135},{"t":2011.447,"v":0.119},{"t":2011.498,"v":0.145},
      {"t":2012.060,"v":0.074},{"t":2012.132,"v":0.08},{"t":2012.205,"v":0.085},{"t":2012.277,"v":0.08},{"t":2012.349,"v":0.074},
      {"t":2012.421,"v":0.074},{"t":2012.493,"v":0.085},{"t":2012.565,"v":0.095},{"t":2012.601,"v":0.109},{"t":2012.674,"v":0.119},
      {"t":2012.998,"v":0.20},{"t":2013.034,"v":0.23},{"t":2013.070,"v":0.22},{"t":2013.106,"v":0.205},{"t":2013.143,"v":0.185},
      {"t":2013.200,"v":0.165},{"t":2013.381,"v":0.235},{"t":2013.402,"v":0.195},{"t":2013.424,"v":0.165},{"t":2013.446,"v":0.135},
      {"t":2013.503,"v":0.115},{"t":2013.561,"v":0.099},{"t":2013.611,"v":0.09},{"t":2013.720,"v":0.085},{"t":2013.828,"v":0.08},
      {"t":2013.936,"v":0.074},{"t":2014.008,"v":0.074},{"t":2014.080,"v":0.08},{"t":2014.189,"v":0.085},{"t":2014.261,"v":0.074},
      {"t":2014.333,"v":0.07},{"t":2014.405,"v":0.08},{"t":2014.477,"v":0.115},{"t":2014.766,"v":0.159},{"t":2014.788,"v":0.205},
      {"t":2014.816,"v":0.326},{"t":2014.838,"v":0.296},{"t":2014.860,"v":0.266},{"t":2014.889,"v":0.235},{"t":2014.932,"v":0.225},
      {"t":2014.982,"v":0.215},{"t":2015.018,"v":0.195},{"t":2015.055,"v":0.165},{"t":2015.091,"v":0.145},{"t":2015.127,"v":0.135},
      {"t":2015.163,"v":0.125},{"t":2015.199,"v":0.155},{"t":2015.235,"v":0.211},{"t":2015.271,"v":0.191},{"t":2015.307,"v":0.185},
      {"t":2015.365,"v":0.165},{"t":2015.394,"v":0.155},{"t":2015.487,"v":0.095},{"t":2015.560,"v":0.085},{"t":2015.632,"v":0.08},
      {"t":2015.740,"v":0.074},{"t":2015.848,"v":0.08},{"t":2015.956,"v":0.085},{"t":2016.065,"v":0.08},{"t":2016.173,"v":0.085},
      {"t":2016.281,"v":0.095},{"t":2016.389,"v":0.099},{"t":2016.966,"v":0.159},{"t":2017.003,"v":0.145},{"t":2017.053,"v":0.139},
      {"t":2018.085,"v":0.08},{"t":2018.135,"v":0.08},{"t":2018.359,"v":0.155},{"t":2018.395,"v":0.145},
      {"t":2018.424,"v":0.286,"lo":0.23,"hi":0.33},{"t":2018.438,"v":0.547,"lo":0.52,"hi":0.58},{"t":2018.453,"v":0.628,"lo":0.6,"hi":0.68},
      {"t":2018.467,"v":0.799,"lo":0.74,"hi":0.85},{"t":2018.482,"v":0.99,"lo":0.97,"hi":1.0}
    ]
  },
  "vconcat": [
    {
      "width": 644, "height": 165,
      "resolve": {"axis": {"x": "independent", "y": "independent"}},
      "layer": [
        {
          "data": {"name": "a"},
          "mark": {"type": "rule", "color": "#b0b0b0", "strokeWidth": 2, "clip": true},
          "encoding": {
            "x": {"field": "t", "type": "quantitative", "scale": {"domain": [2005.05, 2019.0], "nice": false, "zero": false},
                  "axis": {"orient": "bottom", "values": [2006,2007,2008,2009,2010,2011,2012,2013,2014,2015,2016,2017,2018], "labels": false, "title": null}},
            "y": {"field": "lo", "type": "quantitative", "scale": {"domain": [100, 200], "nice": false, "zero": false},
                  "axis": {"orient": "left", "values": [100,120,140,160,180,200], "title": "Peak Altitude (km)", "titleX": -58, "titleBaseline": "middle", "titleAngle": 270}},
            "y2": {"field": "hi"}
          }
        },
        {
          "data": {"name": "a"},
          "mark": {"type": "circle", "color": "black", "size": 5, "opacity": 1, "clip": true},
          "encoding": {
            "x": {"field": "t", "type": "quantitative", "axis": null},
            "y": {"field": "v", "type": "quantitative", "axis": null}
          }
        },
        {
          "data": {"values": [{"lab": "a)"}]},
          "mark": {"type": "text", "align": "left", "baseline": "middle", "fontSize": 16, "fontWeight": "bold", "color": "#333333"},
          "encoding": {
            "x": {"datum": 2005.2, "type": "quantitative", "axis": null},
            "y": {"datum": 191.5, "type": "quantitative", "axis": null},
            "text": {"field": "lab"}
          }
        }
      ]
    },
    {
      "width": 644, "height": 165,
      "resolve": {"axis": {"x": "independent", "y": "independent"}},
      "layer": [
        {
          "data": {"name": "b"},
          "mark": {"type": "rule", "color": "#b0b0b0", "strokeWidth": 2, "clip": true},
          "encoding": {
            "x": {"field": "t", "type": "quantitative", "scale": {"domain": [2005.05, 2019.0], "nice": false, "zero": false},
                  "axis": {"orient": "bottom", "values": [2006,2007,2008,2009,2010,2011,2012,2013,2014,2015,2016,2017,2018], "labels": false, "title": null}},
            "y": {"field": "lo", "type": "quantitative", "scale": {"domain": [0, 180], "nice": false, "zero": false},
                  "axis": {"orient": "left", "values": [7.5,15,22.5,37.5,45,52.5,67.5,75,82.5,97.5,105,112.5,127.5,135,142.5,157.5,165,172.5], "labels": false, "tickSize": 3, "tickWidth": 1, "title": null}},
            "y2": {"field": "hi"}
          }
        },
        {
          "data": {"name": "b"},
          "mark": {"type": "circle", "color": "black", "size": 5, "opacity": 1, "clip": true},
          "encoding": {
            "x": {"field": "t", "type": "quantitative", "axis": null},
            "y": {"field": "v", "type": "quantitative",
                  "axis": {"orient": "left", "values": [0,30,60,90,120,150,180], "title": "SZA (deg.)", "titleX": -58, "titleBaseline": "middle", "titleAngle": 270}}
          }
        },
        {
          "data": {"values": [{"lab": "b)"}]},
          "mark": {"type": "text", "align": "left", "baseline": "middle", "fontSize": 16, "fontWeight": "bold", "color": "#333333"},
          "encoding": {
            "x": {"datum": 2005.2, "type": "quantitative", "axis": null},
            "y": {"datum": 164.7, "type": "quantitative", "axis": null},
            "text": {"field": "lab"}
          }
        }
      ]
    },
    {
      "width": 644, "height": 165,
      "resolve": {"axis": {"x": "independent", "y": "independent"}},
      "layer": [
        {
          "data": {"name": "c"},
          "mark": {"type": "rule", "color": "#b0b0b0", "strokeWidth": 2, "clip": true},
          "encoding": {
            "x": {"field": "t", "type": "quantitative", "scale": {"domain": [2005.05, 2019.0], "nice": false, "zero": false},
                  "axis": {"orient": "bottom", "values": [2006,2007,2008,2009,2010,2011,2012,2013,2014,2015,2016,2017,2018], "labels": false, "title": null}},
            "y": {"field": "lo", "type": "quantitative", "scale": {"domain": [-95, 96], "nice": false, "zero": false},
                  "axis": {"orient": "left", "values": [-78.75,-67.5,-56.25,-33.75,-22.5,-11.25,11.25,22.5,33.75,56.25,67.5,78.75], "labels": false, "tickSize": 3, "tickWidth": 1, "title": null}},
            "y2": {"field": "hi"}
          }
        },
        {
          "data": {"name": "c"},
          "mark": {"type": "circle", "color": "black", "size": 5, "opacity": 1, "clip": true},
          "encoding": {
            "x": {"field": "t", "type": "quantitative", "axis": null},
            "y": {"field": "v", "type": "quantitative",
                  "axis": {"orient": "left", "values": [-90,-45,0,45,90], "title": "Latitude (deg.)", "titleX": -58, "titleBaseline": "middle", "titleAngle": 270}}
          }
        },
        {
          "data": {"values": [{"lab": "c)"}]},
          "mark": {"type": "text", "align": "left", "baseline": "middle", "fontSize": 16, "fontWeight": "bold", "color": "#333333"},
          "encoding": {
            "x": {"datum": 2005.2, "type": "quantitative", "axis": null},
            "y": {"datum": 79.8, "type": "quantitative", "axis": null},
            "text": {"field": "lab"}
          }
        }
      ]
    },
    {
      "width": 644, "height": 167,
      "resolve": {"scale": {"y": "independent"}, "axis": {"x": "independent", "y": "independent"}},
      "layer": [
        {
          "resolve": {"axis": {"x": "independent", "y": "independent"}},
          "layer": [
            {
              "data": {"name": "d"},
              "mark": {"type": "rule", "color": "#b0b0b0", "strokeWidth": 1.2, "clip": true},
              "encoding": {
                "x": {"field": "t", "type": "quantitative", "scale": {"domain": [2005.05, 2019.0], "nice": false, "zero": false},
                      "axis": {"orient": "bottom", "values": [2006,2007,2008,2009,2010,2011,2012,2013,2014,2015,2016,2017,2018], "labels": false, "title": null}},
                "y": {"field": "lo", "type": "quantitative", "scale": {"domain": [0.5, 2.73], "nice": false, "zero": false},
                      "axis": {"orient": "left", "values": [0.5,1.0,1.5,2.0,2.5], "format": ".1f", "title": "EUV Irradiance (mW/m²)", "titleX": -58, "titleBaseline": "middle", "titleAngle": 270}},
                "y2": {"field": "hi"}
              }
            },
            {
              "data": {"name": "d"},
              "mark": {"type": "circle", "color": "black", "size": 5, "opacity": 1, "clip": true},
              "encoding": {
                "x": {"field": "t", "type": "quantitative", "axis": null},
                "y": {"field": "v", "type": "quantitative", "axis": null}
              }
            },
            {
              "data": {"values": [{"lab": "d)"}]},
              "mark": {"type": "text", "align": "left", "baseline": "middle", "fontSize": 16, "fontWeight": "bold", "color": "#333333"},
              "encoding": {
                "x": {"datum": 2005.2, "type": "quantitative", "axis": null},
                "y": {"datum": 2.543, "type": "quantitative", "axis": null},
                "text": {"field": "lab"}
              }
            }
          ]
        },
        {
          "data": {"name": "sun"},
          "mark": {"type": "line", "color": "#0000ff", "opacity": 0.3, "strokeWidth": 1.2, "interpolate": "natural", "clip": true},
          "encoding": {
            "x": {"field": "t", "type": "quantitative", "axis": null},
            "y": {"field": "r", "type": "quantitative", "scale": {"domain": [0.58, 2.96], "nice": false, "zero": false},
                  "axis": {"orient": "right", "values": [0.7, 0.8, 0.9, 1.0], "labelExpr": "datum.value == 0.7 || datum.value == 1 ? format(datum.value, '.1f') : ''",
                           "labelColor": "#0000ff", "tickColor": "#0000ff", "labelPadding": 6,
                           "title": "[Mars − Sun distance]⁻²", "titleColor": "#0000ff", "titleAngle": 270, "titleX": 53, "titleBaseline": "middle"}}
          }
        }
      ]
    },
    {
      "width": 644, "height": 166,
      "resolve": {"axis": {"x": "independent", "y": "independent"}},
      "layer": [
        {
          "data": {"name": "e"},
          "mark": {"type": "rule", "color": "#b0b0b0", "strokeWidth": 1.2, "clip": true},
          "encoding": {
            "x": {"field": "t", "type": "quantitative", "scale": {"domain": [2005.05, 2019.0], "nice": false, "zero": false},
                  "axis": {"orient": "bottom", "values": [2006,2007,2008,2009,2010,2011,2012,2013,2014,2015,2016,2017,2018],
                           "labelExpr": "datum.value % 2 == 0 ? format(datum.value, 'd') : ''", "title": "Year", "titlePadding": 6}},
            "y": {"field": "lo", "type": "quantitative", "scale": {"domain": [0, 1], "nice": false, "zero": false},
                  "axis": {"orient": "left", "values": [0,0.2,0.4,0.6,0.8,1.0], "format": ".1f", "title": "Dust Optical Depth", "titleX": -58, "titleBaseline": "middle", "titleAngle": 270}},
            "y2": {"field": "hi"}
          }
        },
        {
          "data": {"name": "e"},
          "mark": {"type": "circle", "color": "black", "size": 5, "opacity": 1, "clip": true},
          "encoding": {
            "x": {"field": "t", "type": "quantitative", "axis": null},
            "y": {"field": "v", "type": "quantitative", "axis": null}
          }
        },
        {
          "data": {"values": [{"t": 2008.08}, {"t": 2009.88}, {"t": 2011.70}, {"t": 2013.54}, {"t": 2015.38}, {"t": 2017.20}]},
          "mark": {"type": "rule", "color": "black", "strokeWidth": 2},
          "encoding": {
            "x": {"field": "t", "type": "quantitative", "axis": null},
            "y": {"datum": 1.0, "type": "quantitative", "axis": null},
            "y2": {"datum": 0.97}
          }
        },
        {
          "data": {"values": [
            {"my": "MY28", "t": 2006.22}, {"my": "MY29", "t": 2008.08}, {"my": "MY30", "t": 2009.88}, {"my": "MY31", "t": 2011.70},
            {"my": "MY32", "t": 2013.54}, {"my": "MY33", "t": 2015.38}, {"my": "MY34", "t": 2017.20}
          ]},
          "mark": {"type": "text", "align": "center", "baseline": "middle", "fontSize": 14, "fontWeight": "bold", "color": "black"},
          "encoding": {
            "x": {"field": "t", "type": "quantitative", "axis": null},
            "y": {"datum": 0.91, "type": "quantitative", "axis": null},
            "text": {"field": "my"}
          }
        },
        {
          "data": {"values": [{"lab": "e)"}]},
          "mark": {"type": "text", "align": "left", "baseline": "middle", "fontSize": 16, "fontWeight": "bold", "color": "#333333"},
          "encoding": {
            "x": {"datum": 2005.2, "type": "quantitative", "axis": null},
            "y": {"datum": 0.916, "type": "quantitative", "axis": null},
            "text": {"field": "lab"}
          }
        }
      ]
    }
  ]
}
